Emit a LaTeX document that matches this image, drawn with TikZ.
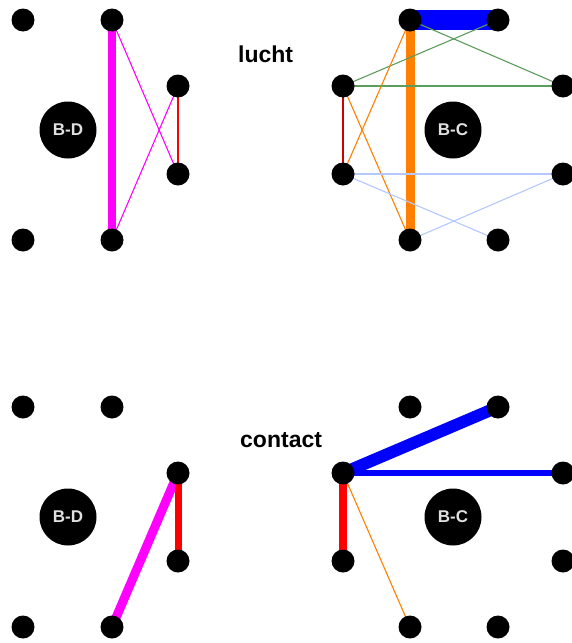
\documentclass[tikz,border=0pt]{standalone}
\usepackage{fontspec}
\setmainfont{Liberation Sans}
\usetikzlibrary{backgrounds}
\definecolor{lgreen}{RGB}{92,156,92}
\definecolor{lblue}{RGB}{180,200,255}
\definecolor{orng}{RGB}{255,128,0}
\definecolor{mgnt}{RGB}{255,0,255}
\definecolor{rd}{RGB}{255,0,0}
\definecolor{bl}{RGB}{0,0,255}
\begin{document}
\begin{tikzpicture}[x=1pt, y=-1pt,
    dot/.style={circle, fill=black, inner sep=0pt, minimum size=23pt},
    hub/.style={circle, fill=black, inner sep=0pt, minimum size=57pt,
        text=white!88!black, font=\fontsize{17}{17}\selectfont\bfseries},
    title/.style={anchor=base west, inner sep=0pt, font=\fontsize{23}{23}\selectfont\bfseries},
    thin line/.style={line width=1.1pt}]
    \useasboundingbox (0,0) rectangle (572,643);
    % hubs and dots
    \foreach \p/\cx/\cy/\hl in {tl/68/130/B-D, bl/68/517/B-D} {
        \node[hub] (\p0) at (\cx,\cy) {\hl};
        \foreach \i/\dx/\dy in {1/-45/-110, 2/44/-110, 3/110/-44, 4/110/44, 5/44/110, 6/-45/110}
            \node[dot] (\p\i) at (\cx+\dx,\cy+\dy) {};
    }
    \foreach \p/\cx/\cy/\hl in {tr/453/130/B-C, br/453/517/B-C} {
        \node[hub] (\p0) at (\cx,\cy) {\hl};
        \foreach \i/\dx/\dy in {1/-43/-110, 2/45/-110, 3/110/-44, 4/110/44, 5/45/110, 6/-43/110, 7/-110/44, 8/-110/-44}
            \node[dot] (\p\i) at (\cx+\dx,\cy+\dy) {};
    }
    \node[title] (lucht) at (238,62) {lucht};
    \node[title] (contact) at (240,447) {contact};
    \begin{pgfonlayer}{background}
        % lucht, B-D
        \draw[mgnt, line width=8pt] (tl2.center) -- (tl5.center);
        \draw[mgnt, thin line] (tl2.center) -- (tl4.center);
        \draw[mgnt, thin line] (tl5.center) -- (tl3.center);
        \draw[rd, thin line] (tl3.center) -- (tl4.center);
        % lucht, B-C
        \draw[bl, line width=20pt] (tr1.center) -- (tr2.center);
        \draw[orng, line width=9pt] (tr1.center) -- (tr6.center);
        \draw[lgreen, thin line] (tr2.center) -- (tr8.center);
        \draw[lgreen, thin line] (tr1.center) -- (tr3.center);
        \draw[lgreen, thin line] (tr8.center) -- (tr3.center);
        \draw[orng, thin line] (tr1.center) -- (tr7.center);
        \draw[orng, thin line] (tr8.center) -- (tr6.center);
        \draw[rd!80!black, thin line] (tr8.center) -- (tr7.center);
        \draw[lblue, thin line] (tr7.center) -- (tr4.center);
        \draw[lblue, thin line] (tr7.center) -- (tr5.center);
        \draw[lblue, thin line] (tr6.center) -- (tr4.center);
        % contact, B-D
        \draw[mgnt, line width=9pt] (bl3.center) -- (bl5.center);
        \draw[rd, line width=7pt] (bl3.center) -- (bl4.center);
        % contact, B-C
        \draw[bl, line width=12pt] (br8.center) -- (br2.center);
        \draw[bl, line width=5.5pt] (br8.center) -- (br3.center);
        \draw[rd, line width=8pt] (br8.center) -- (br7.center);
        \draw[orng, thin line] (br8.center) -- (br6.center);
    \end{pgfonlayer}
\end{tikzpicture}
\end{document}
